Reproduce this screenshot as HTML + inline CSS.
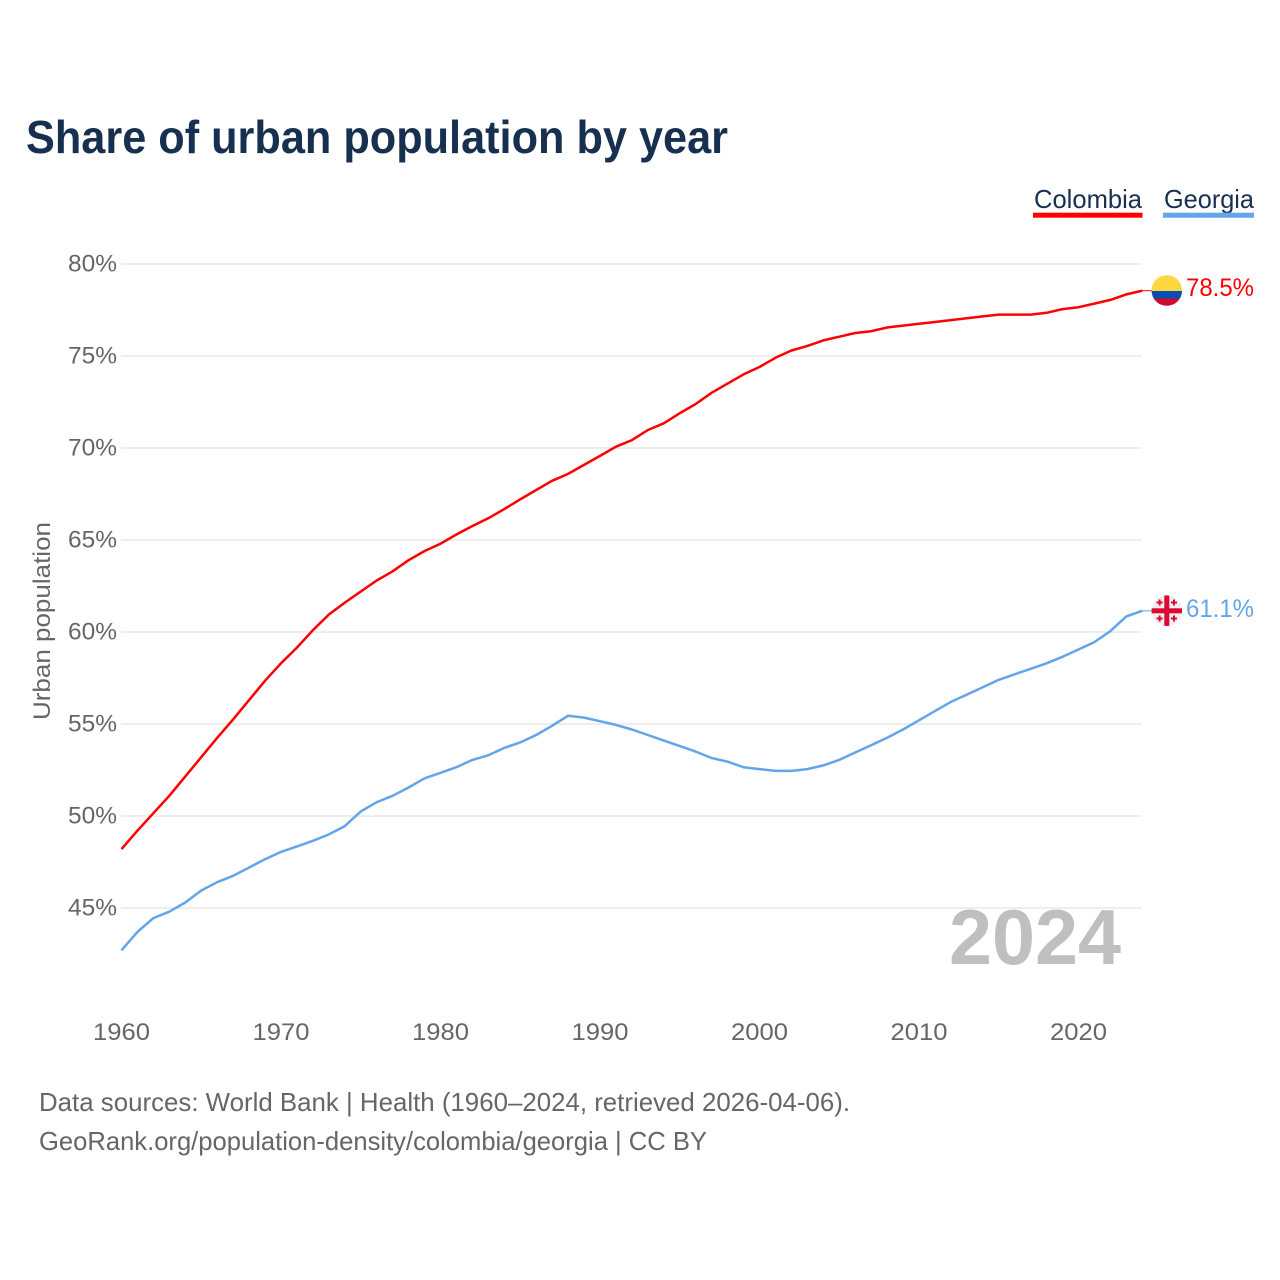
<!DOCTYPE html>
<html lang="en">
<head>
<meta charset="utf-8">
<title>Share of urban population by year</title>
<style>
html,body{margin:0;padding:0;background:#fff;}
svg{display:block;font-family:"Liberation Sans",sans-serif;}
</style>
</head>
<body>
<svg id="chart" width="1280" height="1280" viewBox="0 0 1280 1280" xmlns="http://www.w3.org/2000/svg">
  <defs>
    <clipPath id="flag-clip-colombia"><circle cx="1166.8" cy="290.5" r="15.3"/></clipPath>
    <clipPath id="flag-clip-georgia"><circle cx="1166.8" cy="610.7" r="15.3"/></clipPath>
  </defs>
  <rect x="0" y="0" width="1280" height="1280" fill="#ffffff"/>
  <text x="26" y="153" font-size="46" font-weight="700" fill="#18304f" textLength="702" lengthAdjust="spacingAndGlyphs">Share of urban population by year</text>

  <g id="grid"></g>
  <g id="y-ticks"></g>
  <g id="x-ticks"></g>

  <text transform="translate(50,720) rotate(-90)" font-size="24" fill="#666666" textLength="198" lengthAdjust="spacingAndGlyphs">Urban population</text>
  <text x="949" y="964" font-size="78" font-weight="700" fill="#bfbfbf" textLength="172" lengthAdjust="spacingAndGlyphs">2024</text>

  <g id="series"></g>

  <g>
    <text x="1034" y="208" font-size="26" fill="#18304f" textLength="108" lengthAdjust="spacingAndGlyphs">Colombia</text>
    <rect x="1033" y="212.7" width="109.5" height="5" fill="#ff0000"/>
  </g>
  <g>
    <text x="1164" y="208" font-size="26" fill="#18304f" textLength="90" lengthAdjust="spacingAndGlyphs">Georgia</text>
    <rect x="1163" y="212.7" width="91" height="5" fill="#62a5ea"/>
  </g>

  <g clip-path="url(#flag-clip-colombia)">
    <rect x="1150" y="274" width="34" height="17" fill="#fdd73f"/>
    <rect x="1150" y="291" width="34" height="7.5" fill="#0a4fb0"/>
    <rect x="1150" y="298.5" width="34" height="9" fill="#ce0a33"/>
  </g>
  <g clip-path="url(#flag-clip-georgia)">
    <rect x="1150" y="594" width="34" height="34" fill="#eeeeee"/>
    <rect x="1164.3" y="594" width="5" height="34" fill="#dc0a32"/>
    <rect x="1150" y="608.3" width="34" height="5" fill="#dc0a32"/>
    <path fill="#dc0a32" d="M1158.6 599.5h2v2h2v2h-2v2h-2v-2h-2v-2h2z"/>
    <path fill="#dc0a32" d="M1173 599.5h2v2h2v2h-2v2h-2v-2h-2v-2h2z"/>
    <path fill="#dc0a32" d="M1158.6 615.5h2v2h2v2h-2v2h-2v-2h-2v-2h2z"/>
    <path fill="#dc0a32" d="M1173 615.5h2v2h2v2h-2v2h-2v-2h-2v-2h2z"/>
  </g>

  <text x="1186" y="296" font-size="25" fill="#ff0000" textLength="68" lengthAdjust="spacingAndGlyphs">78.5%</text>
  <text x="1186" y="617" font-size="25" fill="#62a5ea" textLength="68" lengthAdjust="spacingAndGlyphs">61.1%</text>

  <text x="39" y="1111" font-size="26" fill="#666666" textLength="811" lengthAdjust="spacingAndGlyphs">Data sources: World Bank | Health (1960–2024, retrieved 2026-04-06).</text>
  <a><text x="39" y="1150" font-size="26" fill="#666666" textLength="668" lengthAdjust="spacingAndGlyphs">GeoRank.org/population-density/colombia/georgia | CC BY</text></a>
</svg>
<script>
const years = [1960,1961,1962,1963,1964,1965,1966,1967,1968,1969,1970,1971,1972,1973,1974,1975,1976,1977,1978,1979,1980,1981,1982,1983,1984,1985,1986,1987,1988,1989,1990,1991,1992,1993,1994,1995,1996,1997,1998,1999,2000,2001,2002,2003,2004,2005,2006,2007,2008,2009,2010,2011,2012,2013,2014,2015,2016,2017,2018,2019,2020,2021,2022,2023,2024];
const colombiaValues = [48.2,49.2,50.15,51.1,52.15,53.2,54.25,55.25,56.3,57.35,58.3,59.15,60.1,60.95,61.6,62.2,62.8,63.3,63.9,64.4,64.8,65.3,65.76,66.18,66.68,67.21,67.72,68.22,68.59,69.08,69.57,70.07,70.43,70.98,71.34,71.89,72.39,73.0,73.5,74.0,74.4,74.9,75.3,75.55,75.85,76.05,76.25,76.35,76.55,76.65,76.75,76.85,76.95,77.05,77.15,77.25,77.25,77.25,77.35,77.55,77.65,77.85,78.05,78.35,78.55];
const georgiaValues = [42.7,43.7,44.45,44.8,45.3,45.95,46.4,46.75,47.2,47.65,48.05,48.35,48.65,49.0,49.45,50.25,50.75,51.1,51.55,52.05,52.35,52.65,53.05,53.3,53.7,54.0,54.4,54.9,55.45,55.35,55.15,54.95,54.7,54.4,54.1,53.8,53.5,53.15,52.95,52.65,52.55,52.45,52.45,52.55,52.75,53.05,53.45,53.85,54.25,54.7,55.2,55.7,56.2,56.6,57.0,57.4,57.7,58.0,58.3,58.65,59.05,59.45,60.05,60.85,61.15];
const yTickValues = [45,50,55,60,65,70,75,80];
const xTickValues = [1960,1970,1980,1990,2000,2010,2020];

const NS = 'http://www.w3.org/2000/svg';
function xScale(year){ return 121.5 + (year - 1960) * 15.95; }
function yScale(value){ return 264 + (80 - value) * 18.4; }
function make(tag, attrs, parent){
  const el = document.createElementNS(NS, tag);
  for (const k in attrs) el.setAttribute(k, attrs[k]);
  parent.appendChild(el);
  return el;
}

const gridG = document.getElementById('grid');
const yTickG = document.getElementById('y-ticks');
yTickValues.forEach(function(v){
  const line = make('line', {x1:121, x2:1142, y1:yScale(v), y2:yScale(v), stroke:'#eeeeee', 'stroke-width':2}, gridG);
  
  
  const label = make('text', {x:117, y:yScale(v)+7.5, 'text-anchor':'end', 'font-size':24, fill:'#666666', textLength:49, lengthAdjust:'spacingAndGlyphs'}, yTickG);
  
  
  label.textContent = v + '%';
});

const xTickG = document.getElementById('x-ticks');
xTickValues.forEach(function(y){
  const label = make('text', {x:xScale(y), y:1040, 'text-anchor':'middle', 'font-size':24, fill:'#666666', textLength:57, lengthAdjust:'spacingAndGlyphs'}, xTickG);
  
  
  label.textContent = y;
});

const seriesG = document.getElementById('series');
function drawSeries(values, color, name){
  const pts = values.map(function(v, i){ return xScale(years[i]).toFixed(1) + ',' + yScale(v).toFixed(1); });
  const line = make('polyline', {points:pts.join(' '), fill:'none', stroke:color, 'stroke-width':2.5, 'stroke-linejoin':'round'}, seriesG);
  
  
  const last = values[values.length - 1];
  const lastX = xScale(years[years.length - 1]);
  const leader = make('line', {x1:lastX, x2:lastX + 10, y1:yScale(last), y2:yScale(last), stroke:color, 'stroke-width':1}, seriesG);
  
  
}
drawSeries(colombiaValues, '#ff0000', 'colombia');
drawSeries(georgiaValues, '#62a5ea', 'georgia');
</script>
</body>
</html>
